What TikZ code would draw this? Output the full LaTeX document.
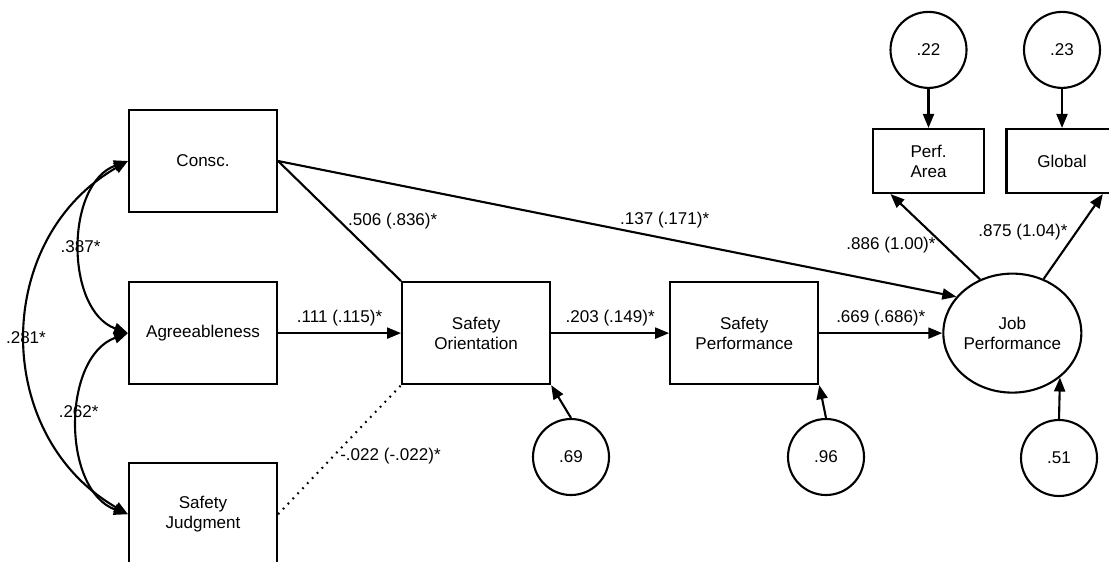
\documentclass[tikz,border=0pt]{standalone}
\usepackage{fontspec}
\setmainfont{Liberation Sans}
\usetikzlibrary{arrows.meta,positioning,shapes.geometric}

\begin{document}
\begin{tikzpicture}[
  font=\fontsize{9.7}{11.4}\selectfont,
  line width=1.2pt,
  box/.style={draw, minimum width=2.96cm, minimum height=2.04cm, align=center},
  ind/.style={draw, minimum width=2.22cm, minimum height=1.28cm, align=center},
  err/.style={draw, circle, minimum size=1.52cm, inner sep=0pt},
  arr/.style={-{Triangle[length=0.28cm, width=0.22cm]}},
  cov/.style={{Triangle[length=0.28cm, width=0.22cm]}-{Triangle[length=0.28cm, width=0.22cm]}}
]
\useasboundingbox (0,0) rectangle (22.18,-11.22);

\node[box] (consc) at (4.06,-3.22) {Consc.};
\node[box, below=1.36cm of consc] (agree) {Agreeableness};
\node[box, below=1.54cm of agree] (judg) {Safety\\Judgment};
\node[box, right=2.46cm of agree] (orient) {Safety\\Orientation};
\node[box, right=2.36cm of orient] (sperf) {Safety\\Performance};
\node[draw, ellipse, minimum width=2.66cm, minimum height=2.38cm, inner sep=0pt, align=center,
  right=2.46cm of sperf] (jobp) {Job\\Performance};
\node[ind] (area) at (18.57,-3.22) {Perf.\\Area};
\node[ind] (global) at (21.24,-3.22) {Global};
\node[err, above=0.78cm of area] (e22) {.22};
\node[err, above=0.78cm of global] (e23) {.23};
\node[err] (e69) at (11.42,-9.14) {.69};
\node[err] (e96) at (16.52,-9.14) {.96};
\node[err] (e51) at (21.18,-9.16) {.51};

% paths
\draw[arr] (consc.east) -- node[pos=0.57, above=2pt] {.137 (.171)*} (jobp.147);
\draw (consc.east) -- node[midway, right=1pt] {.506 (.836)*} (orient.north west);
\draw[arr] (agree) -- node[above] {.111 (.115)*} (orient);
\draw[dash pattern=on 1pt off 3pt] (judg.east) -- node[pos=0.45, right] {-.022 (-.022)*} (orient.south west);
\draw[arr] (orient) -- node[above] {.203 (.149)*} (sperf);
\draw[arr] (sperf) -- node[above] {.669 (.686)*} (jobp);
\draw[arr] (jobp.121) -- node[pos=0.4, left=1pt] {.886 (1.00)*} (area.221);
\draw[arr] (jobp.60) -- node[pos=0.55, left=1pt] {.875 (1.04)*} (global.-39);

% residuals
\draw[arr] (e22) -- (area);
\draw[arr] (e23) -- (global);
\draw[arr] (e69.north) -- (orient.south east);
\draw[arr] (e96.north) -- (sperf.south east);
\draw[arr] (e51.north) -- (jobp.-43);

% correlations
\draw[cov] (consc.west) to[out=200, in=160] node {.387*} (agree.west);
\draw[cov] (agree.west) to[out=200, in=160] node[pos=0.45] {.262*} (judg.west);
\draw[cov] (consc.west) to[out=210, in=150, looseness=1.14] node {.281*} (judg.west);
\end{tikzpicture}
\end{document}
